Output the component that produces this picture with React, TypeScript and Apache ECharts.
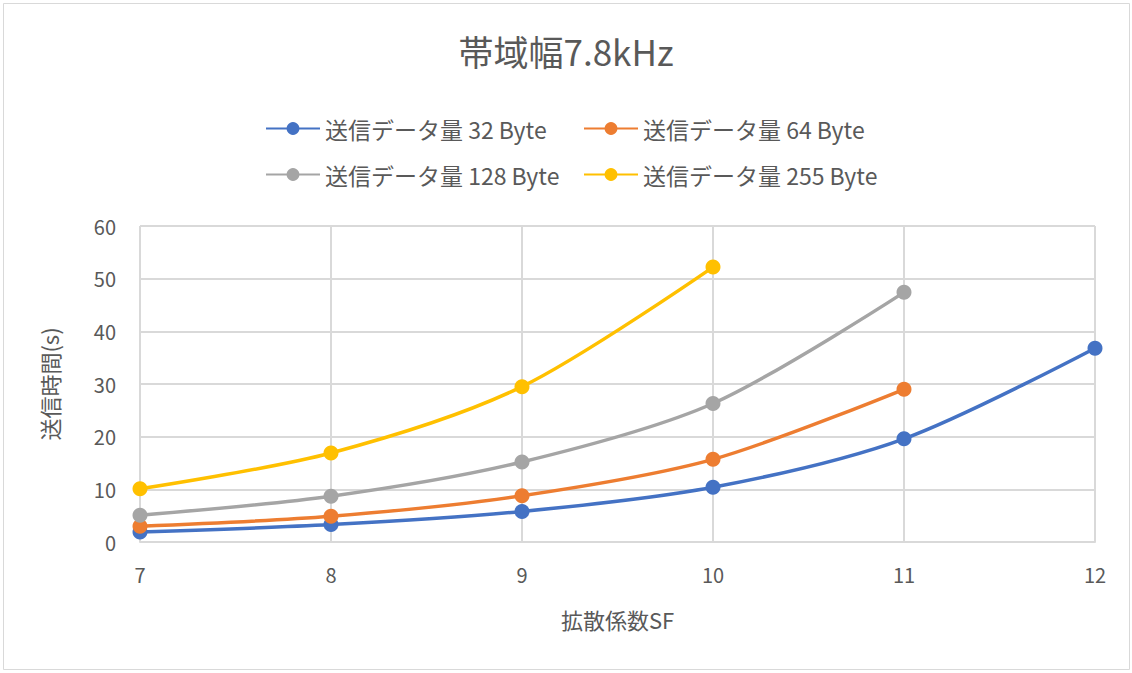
import React, { useEffect, useRef } from "react";
import * as echarts from "echarts";

const sfValues = [7, 8, 9, 10, 11, 12];
const seriesNames = [
  "送信データ量 32 Byte",
  "送信データ量 64 Byte",
  "送信データ量 128 Byte",
  "送信データ量 255 Byte",
];
const bytes32 = [1.9, 3.3, 5.8, 10.4, 19.6, 36.8];
const bytes64 = [3.0, 4.9, 8.8, 15.7, 29.0];
const bytes128 = [5.1, 8.7, 15.2, 26.3, 47.4];
const bytes255 = [10.1, 16.9, 29.5, 52.2];
const colors = ["#4472C4", "#ED7D31", "#A5A5A5", "#FFC000"];
const allValues = [bytes32, bytes64, bytes128, bytes255];

const FONT = "'Noto Sans CJK JP', 'Noto Sans', sans-serif";

export default function App() {
  const ref = useRef<HTMLDivElement>(null);
  useEffect(() => {
    document.body.style.margin = "0";
    const chart = echarts.init(ref.current!, null, { renderer: "svg" });
    const legendPos = [
      { left: 260, top: 112 },
      { left: 578, top: 112 },
      { left: 260, top: 158 },
      { left: 578, top: 158 },
    ];
    chart.setOption({
      animation: false,
      backgroundColor: "#ffffff",
      title: {
        text: "帯域幅7.8kHz",
        left: "center",
        top: 28,
        textStyle: { fontFamily: FONT, fontSize: 35, fontWeight: "normal", color: "#595959" },
      },
      graphic: [
        {
          type: "rect",
          shape: { x: 3.5, y: 3.5, width: 1126, height: 666 },
          style: { fill: "none", stroke: "#d9d9d9", lineWidth: 1 },
          silent: true,
        },
      ],
      legend: seriesNames.map((n, i) => ({
        data: [n],
        left: legendPos[i].left,
        top: legendPos[i].top,
        itemWidth: 54,
        itemHeight: 16,
        itemGap: 6,
        textStyle: { fontFamily: FONT, fontSize: 23, color: "#595959" },
      })),
      grid: { left: 140, right: 37, top: 226, bottom: 131 },
      xAxis: {
        type: "value",
        min: 7,
        max: 12,
        interval: 1,
        name: "拡散係数SF",
        nameLocation: "middle",
        nameGap: 66,
        nameTextStyle: { fontFamily: FONT, fontSize: 22, color: "#595959" },
        axisLine: { lineStyle: { color: "#d9d9d9", width: 2 } },
        axisTick: { show: false },
        axisLabel: { fontFamily: FONT, fontSize: 20, color: "#595959", margin: 22 },
        splitLine: { show: true, lineStyle: { color: "#d9d9d9", width: 2 } },
      },
      yAxis: {
        type: "value",
        min: 0,
        max: 60,
        interval: 10,
        name: "送信時間(s)",
        nameLocation: "middle",
        nameGap: 80,
        nameTextStyle: { fontFamily: FONT, fontSize: 22, color: "#595959" },
        axisLine: { show: false },
        axisTick: { show: false },
        axisLabel: { fontFamily: FONT, fontSize: 20, color: "#595959", margin: 24 },
        splitLine: { show: true, lineStyle: { color: "#d9d9d9", width: 2 } },
      },
      series: seriesNames.map((n, i) => ({
        name: n,
        type: "line",
        smooth: 0.3,
        symbol: "circle",
        symbolSize: 15,
        data: allValues[i].map((v, j) => [sfValues[j], v]),
        itemStyle: { color: colors[i] },
        lineStyle: { color: colors[i], width: 3.5 },
      })),
    });
    return () => chart.dispose();
  }, []);
  return <div ref={ref} style={{ width: 1132, height: 673 }} />;
}
